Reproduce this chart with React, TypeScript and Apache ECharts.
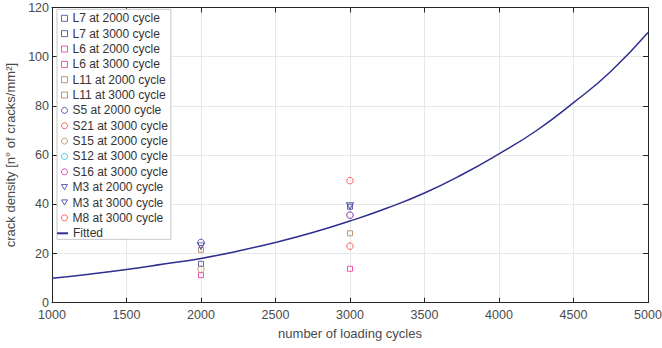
import React, { useEffect, useRef } from "react";
import * as echarts from "echarts";

// Measured specimens
const specimenNames = [
  "L7 at 2000 cycle",
  "L7 at 3000 cycle",
  "L6 at 2000 cycle",
  "L6 at 3000 cycle",
  "L11 at 2000 cycle",
  "L11 at 3000 cycle",
  "S5 at 2000 cycle",
  "S21 at 3000 cycle",
  "S15 at 2000 cycle",
  "S12 at 3000 cycle",
  "S16 at 3000 cycle",
  "M3 at 2000 cycle",
  "M3 at 3000 cycle",
  "M8 at 3000 cycle",
];
const specimenCycles = [2000, 3000, 2000, 3000, 2000, 3000, 2000, 3000, 2000, 3000, 3000, 2000, 3000, 3000];
const specimenDensity = [15.8, 39.0, 11.2, 13.8, 21.5, 28.2, 24.5, 23.0, 13.6, 35.6, 35.6, 23.0, 39.3, 49.6];

// Fitted curve
const fitName = "Fitted";
const fitCycles = [1000, 1250, 1500, 1750, 2000, 2250, 2500, 2750, 3000, 3250, 3500, 3750, 4000, 4250, 4500, 4750, 5000];
const fitDensity = [9.9, 11.6, 13.5, 15.7, 18.0, 21.0, 24.5, 28.5, 33.2, 38.5, 44.6, 52.0, 60.5, 69.9, 81.3, 94.0, 109.8];

// Styles
const specimenShapes = ["sq", "sq", "sq", "sq", "sq", "sq", "ci", "ci", "ci", "ci", "ci", "tr", "tr", "ci"];
const specimenColors = [
  "#3d3d9e", "#3d3d9e",
  "#ec2a9c", "#ec2a9c",
  "#b07a50", "#b07a50",
  "#3333aa", "#ff3b3b", "#b8865a", "#22bbee", "#e0209f",
  "#3535a0", "#3535a0",
  "#ff3b3b",
];
const fitColor = "#2e2e8f";
const FONT = "'Liberation Sans', Arial, sans-serif";

const TRI = "path://M0,0L10,0L5,8.66Z";
const symbolOf = (s: string) => (s === "sq" ? "rect" : s === "ci" ? "circle" : TRI);
const sizeOf = (s: string) => (s === "sq" ? 5 : s === "ci" ? 6.5 : [7, 6.5]);

export default function App() {
  const ref = useRef<HTMLDivElement>(null);
  useEffect(() => {
    const chart = echarts.init(ref.current!, null, { renderer: "svg" });
    const axisLineColor = "#262626";
    const labelStyle = { color: "#4a4a4a", fontSize: 12.5, fontFamily: FONT };

    const scatterSeries = specimenNames.map((name, i) => ({
      type: "scatter",
      name,
      xAxisIndex: 0,
      yAxisIndex: 0,
      data: [[specimenCycles[i], specimenDensity[i]]],
      symbol: symbolOf(specimenShapes[i]),
      symbolSize: sizeOf(specimenShapes[i]),
      itemStyle: { color: "rgba(0,0,0,0)", borderColor: specimenColors[i], borderWidth: 1 },
      z: 2,
    }));

    const fitSeries = {
      type: "line",
      name: fitName,
      xAxisIndex: 0,
      yAxisIndex: 0,
      data: fitCycles.map((x, i) => [x, fitDensity[i]]),
      symbol: "none",
      smooth: true,
      color: fitColor,
      lineStyle: { color: fitColor, width: 1.5 },
      z: 3,
    };

    const boxAxis = {
      show: true,
      axisLine: { show: true, onZero: false, lineStyle: { color: axisLineColor, width: 1 } },
      axisTick: { show: true, inside: true, length: 5, lineStyle: { color: axisLineColor } },
      axisLabel: { show: false },
      splitLine: { show: false },
    };

    chart.setOption({
      animation: false,
      backgroundColor: "#ffffff",
      textStyle: { fontFamily: FONT },
      grid: {
        left: 52,
        right: 14,
        top: 7.5,
        bottom: 45.3,
        containLabel: false,
        outerBoundsMode: "none",
      },
      xAxis: [
        {
          type: "value",
          min: 1000,
          max: 5000,
          interval: 500,
          position: "bottom",
          name: "number of loading cycles",
          nameLocation: "middle",
          nameGap: 20,
          nameTextStyle: { color: "#4a4a4a", fontSize: 13, fontFamily: FONT },
          axisLine: { show: true, onZero: false, lineStyle: { color: axisLineColor, width: 1 } },
          axisTick: { show: true, inside: true, length: 5, lineStyle: { color: axisLineColor } },
          axisLabel: {
            ...labelStyle,
            margin: 6,
            showMinLabel: true,
            showMaxLabel: true,
            formatter: (v: number) => String(v),
          },
          splitLine: { show: true, lineStyle: { color: "#e8e8e8", width: 1 } },
        },
        { type: "value", min: 1000, max: 5000, interval: 500, position: "top", ...boxAxis },
      ],
      yAxis: [
        {
          type: "value",
          min: 0,
          max: 120,
          interval: 20,
          position: "left",
          name: "crack density [n° of cracks/mm²]",
          nameLocation: "middle",
          nameGap: 27,
          nameTextStyle: { color: "#4a4a4a", fontSize: 13, fontFamily: FONT },
          axisLine: { show: true, onZero: false, lineStyle: { color: axisLineColor, width: 1 } },
          axisTick: { show: true, inside: true, length: 5, lineStyle: { color: axisLineColor } },
          axisLabel: { ...labelStyle, margin: 3, lineHeight: 10, formatter: (v: number) => String(v) },
          splitLine: { show: true, lineStyle: { color: "#e8e8e8", width: 1 } },
        },
        { type: "value", min: 0, max: 120, interval: 20, position: "right", ...boxAxis },
      ],
      legend: [
        {
          orient: "vertical",
          left: 57,
          top: 9.3,
          padding: [3, 3, 15.5, 4],
          itemWidth: 6,
          itemHeight: 6,
          itemGap: 3.35,
          backgroundColor: "#ffffff",
          borderColor: "#c8c8c8",
          borderWidth: 1,
          borderRadius: 0,
          selectedMode: false,
          textStyle: { color: "#333333", fontSize: 12, fontFamily: FONT },
          data: specimenNames.map((name, i) => ({
            name,
            icon: symbolOf(specimenShapes[i]),
            itemStyle: { color: "rgba(0,0,0,0)", borderColor: specimenColors[i], borderWidth: 1 },
          })),
          z: 10,
        },
        {
          orient: "vertical",
          left: 57,
          top: 227.3,
          padding: 0,
          itemWidth: 11,
          itemHeight: 2,
          selectedMode: false,
          textStyle: { color: "#333333", fontSize: 12, fontFamily: FONT },
          data: [{ name: fitName, icon: "rect", itemStyle: { color: fitColor, borderWidth: 0 } }],
          z: 11,
        },
      ],
      series: [...scatterSeries, fitSeries],
    });
    return () => chart.dispose();
  }, []);
  return (
    <div
      ref={ref}
      style={{ position: "absolute", left: 0, top: 0, width: 662, height: 348 }}
    />
  );
}
